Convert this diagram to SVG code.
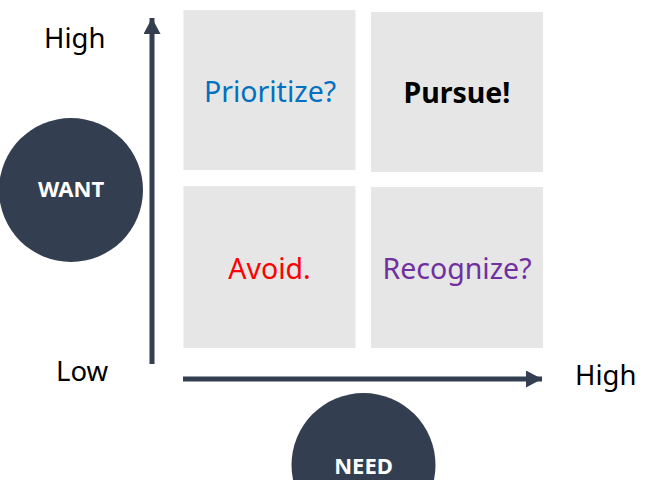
<svg xmlns="http://www.w3.org/2000/svg" width="658" height="480" viewBox="0 0 658 480">
<style>
.box{fill:#e6e6e6}
.lbl{font-family:"Noto Sans","Open Sans",sans-serif;font-size:28.5px;text-anchor:middle}
.ax{font-family:"Noto Sans","Open Sans",sans-serif;font-size:27.5px;fill:#000}
.circ{fill:#333f50}
.ct{font-family:"Noto Sans","Open Sans",sans-serif;font-size:22px;font-weight:bold;fill:#fff;text-anchor:middle}
.axis{stroke:#333f50;stroke-width:5;fill:none}
</style>
<defs>
<marker id="ah" markerUnits="userSpaceOnUse" markerWidth="18" markerHeight="18" refX="16" refY="8.5" orient="auto">
<path d="M0,0 L16,8.5 L0,17 Z" fill="#333f50"/>
</marker>
</defs>
<rect width="658" height="480" fill="#fff"/>
<g id="connectors">
<line class="axis" x1="152" y1="364" x2="152" y2="18" marker-end="url(#ah)"/>
<line class="axis" x1="183" y1="379" x2="542" y2="379" marker-end="url(#ah)"/>
</g>
<g id="q-prioritize"><rect class="box" x="183.5" y="10" width="172" height="160"/><text class="lbl" x="270" y="101.5" fill="#0070c0">Prioritize?</text></g>
<g id="q-pursue"><rect class="box" x="371" y="12" width="172" height="160"/><text class="lbl" x="457" y="103" fill="#000" font-weight="bold">Pursue!</text></g>
<g id="q-avoid"><rect class="box" x="183.5" y="186" width="172" height="162"/><text class="lbl" x="269.5" y="279" fill="#ff0000">Avoid.</text></g>
<g id="q-recognize"><rect class="box" x="371" y="187" width="172" height="161"/><text class="lbl" x="457" y="279" fill="#7030a0">Recognize?</text></g>
<g id="want"><circle class="circ" cx="71" cy="190" r="72"/><text class="ct" x="71" y="197">WANT</text></g>
<g id="need"><circle class="circ" cx="363.5" cy="465" r="72"/><text class="ct" x="363.5" y="473.5">NEED</text></g>
<g id="axis-labels">
<text class="ax" x="44" y="48">High</text>
<text class="ax" x="56" y="381">Low</text>
<text class="ax" x="575" y="385">High</text>
</g>
</svg>
